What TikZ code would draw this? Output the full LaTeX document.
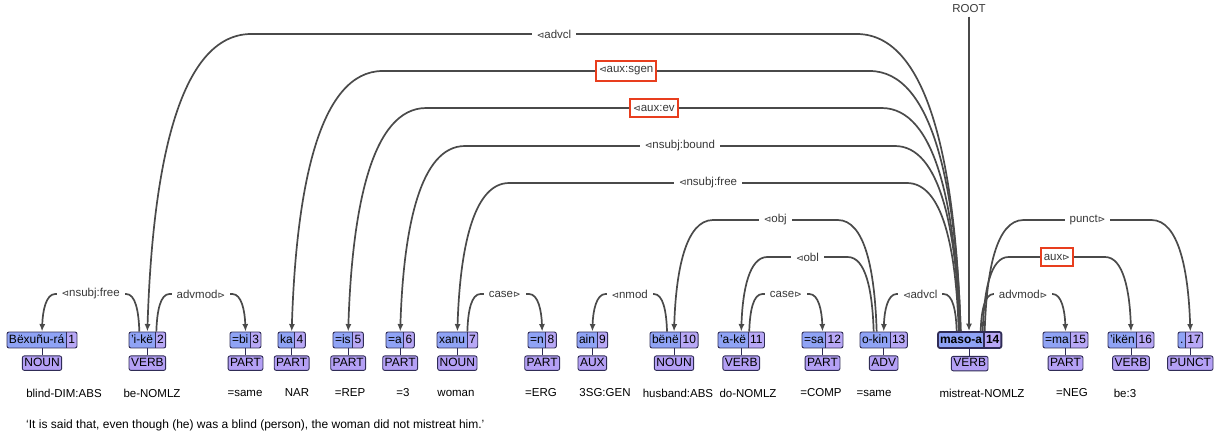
\documentclass[tikz,border=0pt]{standalone}
\usepackage{fontspec}
\setmainfont{Liberation Sans}
\newfontfamily\symfont{DejaVu Sans}
\usepackage{tikz}
\usetikzlibrary{arrows.meta,positioning,fit,calc}
\usepackage{xcolor}
\definecolor{wordblue}{RGB}{143,163,245}
\definecolor{numpurple}{RGB}{184,168,246}
\definecolor{pospurple}{RGB}{180,160,245}
\definecolor{boxline}{RGB}{48,44,86}
\definecolor{arcgrey}{RGB}{74,74,74}
\definecolor{alertred}{RGB}{232,62,30}
\newcommand{\tokfont}{\fontsize{12}{14}\selectfont}
\newcommand{\glossfont}{\fontsize{11.5}{13.5}\selectfont}
\newcommand{\labfont}{\fontsize{11.5}{13.5}\selectfont}
\newcommand{\tril}{{\symfont\fontsize{9}{9}\selectfont ⊲}}
\newcommand{\trir}{{\symfont\fontsize{9}{9}\selectfont ⊳}}
\tikzset{
  word/.style={
    fill=wordblue,
    font=\tokfont,
    text height=9pt,
    text depth=3pt,
    inner xsep=2pt,
    inner ysep=2pt,
    outer sep=0pt
  },
  num/.style={word, fill=numpurple},
  tok/.style={draw=boxline, rounded corners=2pt, inner sep=0pt, line width=0.9pt},
  divider/.style={draw=boxline, line width=0.9pt},
  upos/.style={
    draw=boxline,
    fill=pospurple,
    rounded corners=2pt,
    font=\tokfont,
    text height=9pt,
    text depth=2.5pt,
    inner xsep=2pt,
    inner ysep=1.5pt,
    line width=0.9pt
  },
  stem/.style={draw=boxline, line width=0.9pt},
  gloss/.style={font=\glossfont, inner sep=1pt},
  arc/.style={draw=arcgrey, line width=1.7pt, -{Latex[length=7.5pt,width=6pt]}},
  dlabel/.style={midway, fill=white, font=\labfont, text=arcgrey!75!black, inner xsep=5pt, inner ysep=1pt},
  redlabel/.style={dlabel, draw=alertred, line width=2.2pt, inner xsep=3pt, inner ysep=6pt},
  deparc/.style={to path={
    let \p1=(\tikztostart), \p2=(\tikztotarget),
        \n1={-#1},
        \n2={0.35*(\n1-\y1)},
        \n3={(\x2>\x1)?1:-1} in
    .. controls ({\x1+0.05*\n3*\n2}, {\y1+0.55*(\n1-\y1)}) and ({\x1+0.3*\n3*\n2}, {\n1}) .. ({\x1+\n3*\n2}, {\n1})
    -- ({\x2-\n3*\n2}, {\n1}) \tikztonodes
    .. controls ({\x2-0.3*\n3*\n2}, {\n1}) and ({\x2-0.05*\n3*\n2}, {\y2+0.55*(\n1-\y2)}) .. (\p2)
  }},
}

\begin{document}
\begin{tikzpicture}[x=1pt, y=1pt]
\useasboundingbox (0,0) rectangle (1222,-434);

% Tokens, their numbers and POS tags
\foreach \i/\xl/\wtext/\utag in {1/7/Bëxuñu-rá/NOUN, 2/129/'i-kë/VERB, 3/230/=bi/PART, 4/278/ka/PART, 5/333/=is/PART, 6/386/=a/PART, 7/437/xanu/NOUN, 8/528/=n/PART, 9/577/ain/AUX, 10/650/bënë/NOUN, 11/718/'a-kë/VERB, 12/802/=sa/PART, 13/860/o-kin/ADV, 15/1043/=ma/PART, 16/1108/'ikën/VERB, 17/1178/{.}/PUNCT}{
  \node[word, anchor=west] (w\i) at (\xl,-340) {\wtext};
  \node[num, right=0pt of w\i] (n\i) {\i};
  \node[tok, fit=(w\i)(n\i)] (t\i) {};
  \draw[divider] (n\i.north west) -- (n\i.south west);
  \node[upos, below=7pt of t\i] (p\i) {\utag};
  \draw[stem] (t\i) -- (p\i);
}

% The root token
\node[word, font=\tokfont\bfseries, anchor=west] (w14) at (938,-340) {maso-a};
\node[num, font=\tokfont\bfseries, right=0pt of w14] (n14) {14};
\node[tok, line width=1.8pt, fit=(w14)(n14)] (t14) {};
\draw[divider, line width=1.8pt] (n14.north west) -- (n14.south west);
\node[upos, below=7pt of t14] (p14) {VERB};
\draw[stem] (t14) -- (p14);

% Glosses and translation
\foreach \x/\gl [count=\i] in {64/blind-DIM:ABS, 152/be-NOMLZ, 245/=same, 297/NAR, 350/=REP, 403/=3, 456/woman, 541/=ERG, 605/3SG:GEN, 678/husband:ABS, 748/do-NOMLZ, 821/=COMP, 874/=same, 982/mistreat-NOMLZ, 1072/=NEG, 1125/be:3}
  \node[gloss] (g\i) at (\x,-393) {\gl};
\node[gloss, font=\tokfont, anchor=west] (trans) at (25,-425) {‘It is said that, even though (he) was a blind (person), the woman did not mistreat him.’};

% Root
\node[font=\labfont, text=arcgrey!75!black] (root) at (969,-9) {ROOT};
\draw[arc] (root) -- (root |- t14.north);

% Long arcs from the root to the left
\draw[arc] ([xshift=-9pt]t14.north) to[deparc=34] node[dlabel] {\tril advcl} (t2.north);
\draw[arc] ([xshift=-9pt]t14.north) to[deparc=71] node[redlabel] {\tril aux:sgen} (t4.north);
\draw[arc] ([xshift=-10pt]t14.north) to[deparc=108] node[redlabel] {\tril aux:ev} (t5.north);
\draw[arc] ([xshift=-10pt]t14.north) to[deparc=146] node[dlabel] {\tril nsubj:bound} (t6.north);
\draw[arc] ([xshift=-11pt]t14.north) to[deparc=183] node[dlabel] {\tril nsubj:free} (t7.north);
\draw[arc] ([xshift=-13pt]t14.north) to[deparc=294] node[dlabel] {\tril advcl} (t13.north);

% Arcs from the root to the right
\draw[arc] ([xshift=11pt]t14.north) to[deparc=294] node[dlabel] {advmod\trir} (t15.north);
\draw[arc] ([xshift=13pt]t14.north) to[deparc=257] node[redlabel] {aux\trir} (t16.north);
\draw[arc] ([xshift=15pt]t14.north) to[deparc=220] node[dlabel] {punct\trir} (t17.north);

% Short arcs
\draw[arc] ([xshift=-8pt]t2.north) to[deparc=294] node[dlabel] {\tril nsubj:free} (t1.north);
\draw[arc] ([xshift=9pt]t2.north) to[deparc=294] node[dlabel] {advmod\trir} (t3.north);
\draw[arc] ([xshift=10pt]t7.north) to[deparc=294] node[dlabel] {case\trir} (t8.north);
\draw[arc] ([xshift=-7pt]t10.north) to[deparc=294] node[dlabel] {\tril nmod} (t9.north);
\draw[arc] ([xshift=-7pt]t13.north) to[deparc=220] node[dlabel] {\tril obj} (t10.north);
\draw[arc] ([xshift=-10pt]t13.north) to[deparc=257] node[dlabel] {\tril obl} (t11.north);
\draw[arc] ([xshift=8pt]t11.north) to[deparc=294] node[dlabel] {case\trir} (t12.north);

\end{tikzpicture}
\end{document}
